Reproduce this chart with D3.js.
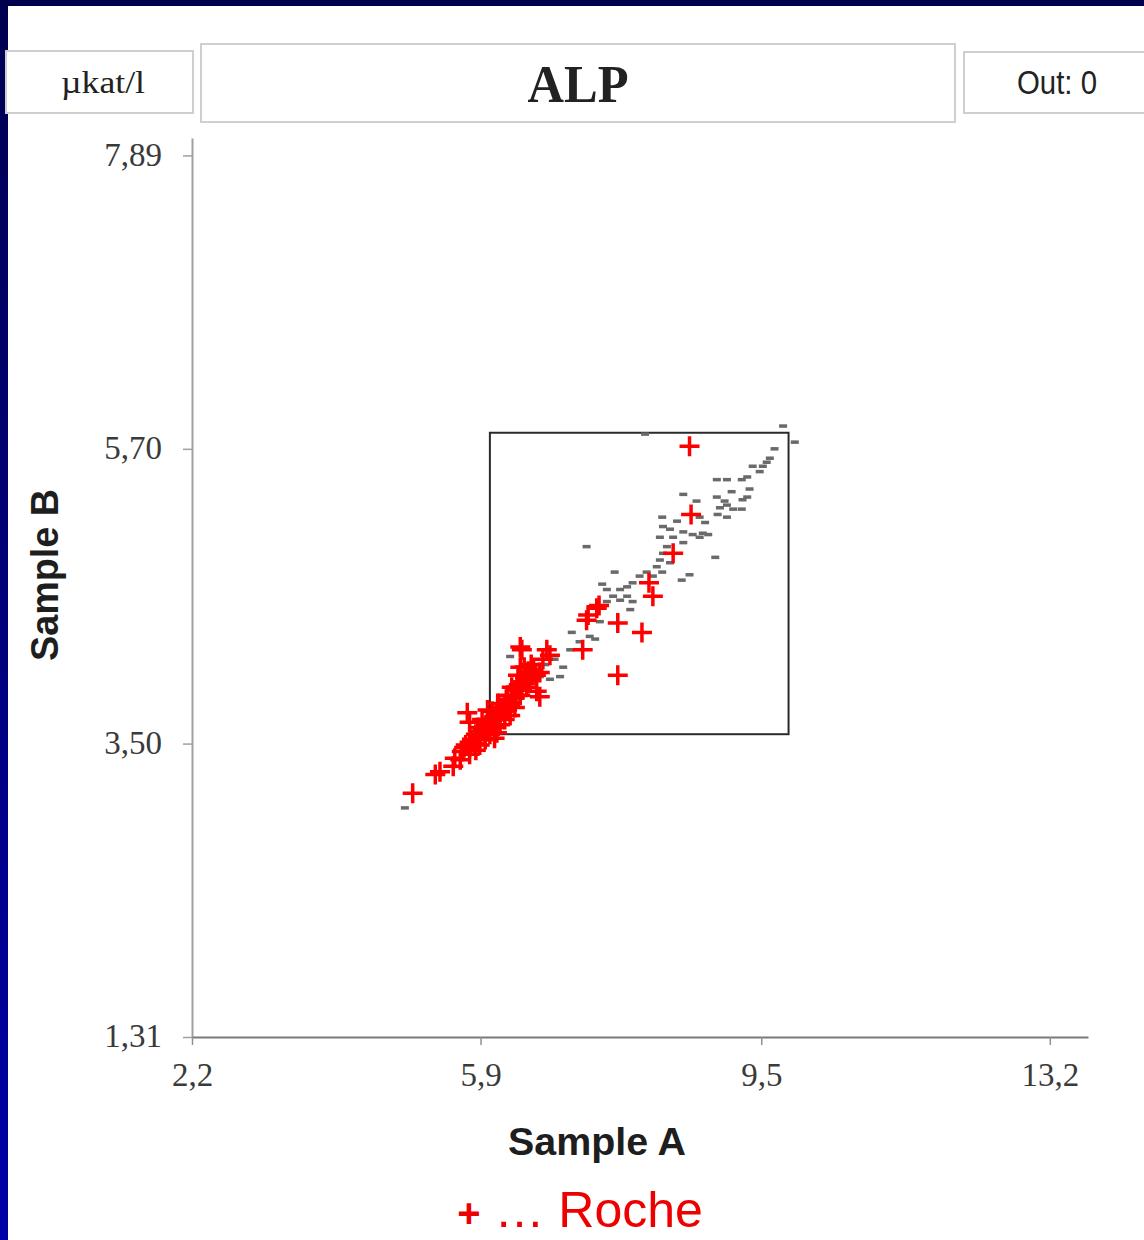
<!DOCTYPE html>
<html>
<head>
<meta charset="utf-8">
<script src="https://cdn.jsdelivr.net/npm/d3@7"></script>
<style>
  body { margin: 0; background: #fff; }
  .tick text { font-family: 'Liberation Serif', 'DejaVu Serif', serif; fill: #3a3a3a; }
</style>
</head>
<body>
<div id="chart"></div>
<script>
// ALP, µkat/l, sample A vs sample B
const unitLabel = 'µkat/l';
const titleLabel = 'ALP';
const outLabel = 'Out: 0';
const xTitle = 'Sample A';
const yTitle = 'Sample B';
const legendMark = '+';
const legendLabel = ' … Roche';

const xTicks = [2.2, 5.9, 9.5, 13.2];
const yTicks = [1.31, 3.50, 5.70, 7.89];
const xExtent = [2.2, 13.69];
const yExtent = [1.31, 8.02];

// acceptance box
const limitsA = [6.02, 9.85];
const limitsB = [3.57, 5.82];

// other participants (grey dashes)
const otherPoints = [
  [9.78, 5.87], [9.93, 5.75], [9.67, 5.70], [9.61, 5.63], [9.57, 5.60], [9.52, 5.57], [9.39, 5.57],
  [9.48, 5.53], [9.32, 5.49], [9.25, 5.47], [8.93, 5.47], [9.06, 5.47], [9.12, 5.38], [9.35, 5.40],
  [9.32, 5.34], [9.26, 5.32], [8.50, 5.36], [8.67, 5.31], [8.93, 5.34], [9.03, 5.31], [9.06, 5.28],
  [8.97, 5.26], [9.14, 5.25], [9.25, 5.25], [8.94, 5.21], [9.06, 5.19], [8.23, 5.19], [8.71, 5.19],
  [8.78, 5.15], [8.24, 5.12], [8.33, 5.10], [8.42, 5.16], [8.50, 5.08], [8.62, 5.06], [8.71, 5.04],
  [8.82, 5.06], [8.37, 5.04], [8.50, 5.00], [7.26, 4.97], [8.29, 4.97], [8.24, 4.92], [8.20, 4.87],
  [8.33, 4.85], [8.91, 4.89], [8.16, 4.82], [8.23, 4.78], [8.11, 4.75], [7.62, 4.78], [7.94, 4.75],
  [7.85, 4.70], [7.78, 4.67], [7.69, 4.65], [8.58, 4.76], [8.48, 4.72], [7.46, 4.69], [7.52, 4.65],
  [7.60, 4.60], [7.69, 4.57], [7.52, 4.56], [7.78, 4.60], [7.85, 4.56], [7.82, 4.50], [8.03, 4.78],
  [8.20, 5.04], [8.75, 5.07], [7.30, 4.30], [7.37, 4.28], [7.17, 4.26], [7.05, 4.20], [7.07, 4.33],
  [6.96, 4.07], [6.92, 4.00], [6.28, 4.15], [6.66, 4.00], [6.79, 3.98], [6.85, 4.13], [6.73, 4.09],
  [7.43, 4.41], [8.01, 5.81], [4.93, 3.02]
];

// Roche participants (red crosses)
const rochePoints = [
  [8.58, 5.72], [8.60, 5.21], [8.37, 4.92], [8.06, 4.70], [8.11, 4.60], [7.39, 4.51], [7.42, 4.53],
  [7.26, 4.42], [7.28, 4.46], [7.66, 4.40], [7.97, 4.33], [7.21, 4.20], [7.66, 4.01], [6.43, 4.20],
  [6.41, 4.22], [6.75, 4.20], [6.79, 4.16], [6.70, 4.13], [6.41, 4.07], [6.66, 4.03], [6.62, 3.89],
  [6.66, 3.85], [5.73, 3.73], [5.76, 3.66], [6.11, 3.58], [5.38, 3.29], [5.32, 3.27], [5.55, 3.33],
  [5.03, 3.13],
  [5.66, 3.44], [5.71, 3.49], [5.76, 3.47], [5.79, 3.53], [5.84, 3.57], [5.82, 3.50], [5.89, 3.54],
  [5.93, 3.60], [5.87, 3.62], [5.97, 3.64], [6.02, 3.66], [5.99, 3.59], [6.07, 3.69], [6.05, 3.74],
  [6.11, 3.71], [6.15, 3.77], [6.19, 3.74], [6.12, 3.80], [6.23, 3.83], [6.28, 3.79], [6.25, 3.86],
  [6.32, 3.84], [6.35, 3.90], [6.30, 3.92], [6.39, 3.94], [6.43, 3.96], [6.38, 4.01], [6.47, 3.99],
  [6.51, 4.04], [6.46, 4.07], [6.55, 4.09], [6.58, 4.05], [6.15, 3.64], [6.21, 3.68], [5.96, 3.53],
  [5.76, 3.42], [5.84, 3.45], [6.08, 3.62], [6.34, 3.77], [6.41, 3.86], [6.49, 3.92], [6.28, 3.71],
  [6.53, 3.98], [6.61, 4.01], [5.92, 3.68], [5.99, 3.75], [5.57, 3.39], [5.64, 3.38],
  [5.69, 3.47], [5.89, 3.49], [6.02, 3.57], [6.08, 3.54], [6.15, 3.69], [6.24, 3.75], [6.34, 3.84],
  [6.43, 3.90], [6.48, 3.98], [6.57, 4.01], [5.96, 3.62], [5.87, 3.53], [5.76, 3.51], [6.21, 3.79],
  [6.30, 3.81]
];

const W = 1144, H = 1240;
const svg = d3.select('#chart').append('svg')
  .attr('width', W)
  .attr('height', H);

// slide frame
const grad = svg.append('defs').append('linearGradient')
  .attr('id', 'side')
  .attr('x1', 0).attr('y1', 0).attr('x2', 0).attr('y2', 1);
grad.append('stop').attr('offset', '0%').attr('stop-color', '#000050');
grad.append('stop').attr('offset', '100%').attr('stop-color', '#0000a8');

svg.append('rect').attr('width', W).attr('height', H).attr('fill', '#fff');
svg.append('rect').attr('x', 0).attr('y', 0).attr('width', 8).attr('height', H).attr('fill', 'url(#side)');
svg.append('rect').attr('x', 0).attr('y', 0).attr('width', W).attr('height', 6).attr('fill', '#000050');

// header boxes
const header = [
  { x: 6, y: 51, w: 187, h: 62, text: unitLabel, font: "'Liberation Serif', serif", size: 31, weight: 'normal', tx: 103, ty: 93, len: 84 },
  { x: 201, y: 44, w: 754, h: 78, text: titleLabel, font: "'Liberation Serif', serif", size: 52, weight: 'bold', tx: 578, ty: 102, len: 101 },
  { x: 964, y: 52, w: 190, h: 61, text: outLabel, font: "'Liberation Sans Narrow', 'Liberation Sans', sans-serif", size: 33, weight: 'normal', tx: 1057, ty: 94, len: 80 }
];
header.forEach(b => {
  svg.append('rect')
    .attr('x', b.x).attr('y', b.y)
    .attr('width', b.w).attr('height', b.h)
    .attr('fill', '#fff')
    .attr('stroke', '#cfcfcf')
    .attr('stroke-width', 2);
  svg.append('text')
    .attr('x', b.tx).attr('y', b.ty)
    .attr('text-anchor', 'middle')
    .attr('textLength', b.len)
    .attr('lengthAdjust', 'spacingAndGlyphs')
    .style('font-family', b.font)
    .style('font-size', b.size + 'px')
    .style('font-weight', b.weight)
    .style('fill', '#222')
    .text(b.text);
});

// scales
const x = d3.scaleLinear().domain(xExtent).range([192, 1088]);
const y = d3.scaleLinear().domain(yExtent).range([1037, 138]);
const comma = n => d3.format('.1f')(n).replace('.', ',');
const comma2 = n => d3.format('.2f')(n).replace('.', ',');

// y axis
const yAxis = svg.append('g')
  .attr('transform', 'translate(' + x(xExtent[0]) + ',0)')
  .call(d3.axisLeft(y).tickValues(yTicks).tickFormat(comma2).tickSize(9).tickPadding(21).tickSizeOuter(0));
yAxis.select('.domain').attr('stroke', '#a0a0a0').attr('stroke-width', 2);
yAxis.selectAll('.tick line').attr('stroke', '#a0a0a0').attr('stroke-width', 1.5);
yAxis.selectAll('.tick text').style('font-size', '33px').attr('dy', '0.3em');

// x axis
const xAxis = svg.append('g')
  .attr('transform', 'translate(0,' + y(yExtent[0]) + ')')
  .call(d3.axisBottom(x).tickValues(xTicks).tickFormat(comma).tickSize(8).tickPadding(18).tickSizeOuter(0));
xAxis.select('.domain').attr('stroke', '#7a7a7a').attr('stroke-width', 2);
xAxis.selectAll('.tick line').attr('stroke', '#909090').attr('stroke-width', 1.5);
xAxis.selectAll('.tick text').style('font-size', '33px');

// acceptance box
svg.append('rect')
  .attr('x', x(limitsA[0]))
  .attr('y', y(limitsB[1]))
  .attr('width', x(limitsA[1]) - x(limitsA[0]))
  .attr('height', y(limitsB[0]) - y(limitsB[1]))
  .attr('fill', 'none')
  .attr('stroke', '#2a2a2a')
  .attr('stroke-width', 2);

// other results
svg.append('g').selectAll('rect')
  .data(otherPoints)
  .enter().append('rect')
  .attr('x', d => x(d[0]) - 4)
  .attr('y', d => y(d[1]) - 1.75)
  .attr('width', 8)
  .attr('height', 3.5)
  .attr('fill', '#6a6a6a');

// Roche results
const cross = svg.append('g')
  .attr('stroke', '#ff0000')
  .attr('stroke-width', 3.5);
cross.selectAll('path')
  .data(rochePoints)
  .enter().append('path')
  .attr('d', d => {
    const cx = x(d[0]), cy = y(d[1]);
    return 'M' + (cx - 10) + ',' + cy + 'H' + (cx + 10) + 'M' + cx + ',' + (cy - 10) + 'V' + (cy + 10);
  });

// axis titles
svg.append('text')
  .attr('transform', 'translate(58,575) rotate(-90)')
  .attr('text-anchor', 'middle')
  .attr('textLength', 172)
  .attr('lengthAdjust', 'spacingAndGlyphs')
  .style('font-family', "'Liberation Sans', Arial, sans-serif")
  .style('font-size', '38px')
  .style('font-weight', 'bold')
  .style('fill', '#1e1e1e')
  .text(yTitle);

svg.append('text')
  .attr('x', 597)
  .attr('y', 1155)
  .attr('text-anchor', 'middle')
  .attr('textLength', 178)
  .attr('lengthAdjust', 'spacingAndGlyphs')
  .style('font-family', "'Liberation Sans', Arial, sans-serif")
  .style('font-size', '39px')
  .style('font-weight', 'bold')
  .style('fill', '#1e1e1e')
  .text(xTitle);

// legend
const legend = svg.append('text')
  .attr('x', 580)
  .attr('y', 1227)
  .attr('text-anchor', 'middle')
  .style('font-family', "'Liberation Sans', Arial, sans-serif")
  .style('font-size', '50px')
  .style('fill', '#ee0000');
legend.append('tspan').style('font-weight', 'bold').style('font-size', '40px').text(legendMark);
legend.append('tspan').text(legendLabel);
</script>
</body>
</html>
